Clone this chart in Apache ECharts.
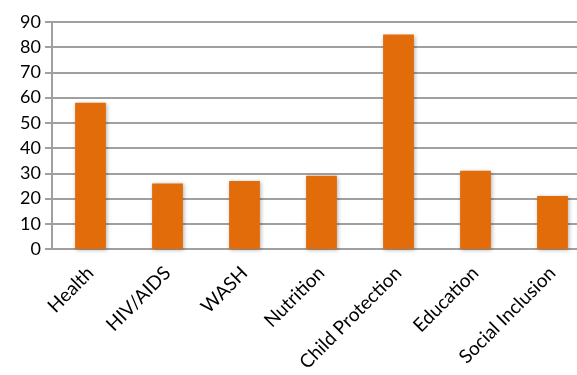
<!DOCTYPE html>
<html>
<head>
<meta charset="utf-8">
<script src="https://cdn.jsdelivr.net/npm/echarts@6/dist/echarts.min.js"></script>
<style>
  html, body { margin: 0; padding: 0; background: #fff; }
  #chart { width: 577px; height: 375px; }
</style>
</head>
<body>
<div id="chart"></div>
<script>
// sectors and counts
const categories = ['Health', 'HIV/AIDS', 'WASH', 'Nutrition', 'Child Protection', 'Education', 'Social Inclusion'];
const values = [58, 26, 27, 29, 85, 31, 21];

const gridColor = '#a0a0a0';
const myChart = echarts.init(document.getElementById('chart'));

myChart.setOption({
    animation: false,
    grid: {
        left: 52,
        width: 539,
        top: 22,
        height: 227,
        containLabel: false,
        outerBoundsMode: 'none'
    },
    xAxis: {
        type: 'category',
        data: categories,
        axisLine: { lineStyle: { color: gridColor, width: 2 } },
        axisTick: { length: 6, lineStyle: { color: gridColor, width: 2 } },
        axisLabel: {
            rotate: 45,
            interval: 0,
            margin: 21,
            color: '#000',
            fontFamily: 'Lato',
            fontSize: 19
        }
    },
    yAxis: {
        type: 'value',
        min: 0,
        max: 90,
        interval: 10,
        axisLine: { show: true, lineStyle: { color: gridColor, width: 2 } },
        axisTick: { show: true, length: 7, lineStyle: { color: gridColor, width: 2 } },
        axisLabel: {
            margin: 11,
            color: '#000',
            fontFamily: 'Lato',
            fontSize: 18
        },
        splitLine: { lineStyle: { color: gridColor, width: 2 } }
    },
    series: [
        {
            type: 'bar',
            data: values,
            barWidth: '40%',
            itemStyle: {
                color: '#e36c0a',
                shadowBlur: 4,
                shadowOffsetX: 1,
                shadowOffsetY: 1,
                shadowColor: 'rgba(0, 0, 0, 0.3)'
            }
        }
    ]
});
</script>
</body>
</html>
